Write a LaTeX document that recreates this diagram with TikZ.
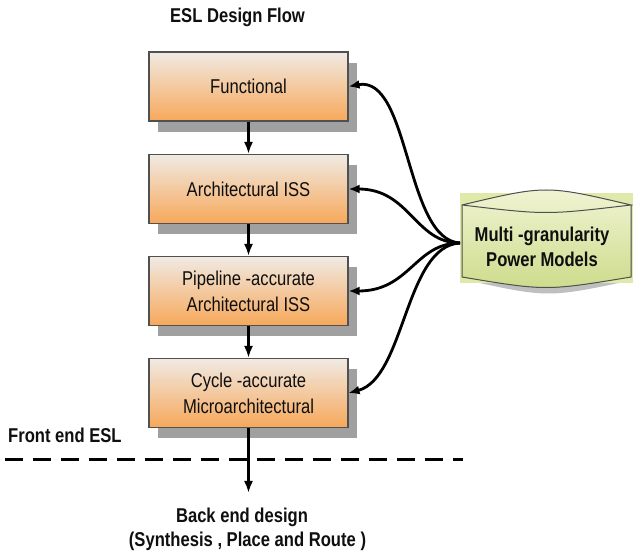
\documentclass[tikz,border=0pt]{standalone}
\usepackage{fontspec}
\setmainfont{Liberation Sans}[FakeStretch=0.83]
\usetikzlibrary{arrows.meta,shadows}
\definecolor{boxtop}{RGB}{240,234,228}
\definecolor{boxbot}{RGB}{247,168,90}
\definecolor{boxedge}{RGB}{80,80,80}
\definecolor{shadowgray}{RGB}{160,160,160}
\definecolor{pmback}{RGB}{222,233,170}
\definecolor{pmtop}{RGB}{242,245,214}
\definecolor{pmbot}{RGB}{204,219,138}
\definecolor{ink}{RGB}{15,15,15}

\begin{document}
\begin{tikzpicture}[x=1pt,y=-1pt,
  txt/.style={font=\fontsize{20}{26}\selectfont, text=ink, inner sep=0pt},
  bold/.style={txt, font=\fontsize{20}{25}\selectfont\bfseries},
  stage/.style={txt, draw=boxedge, line width=1.1pt, top color=boxtop,
    bottom color=boxbot, minimum width=199pt, minimum height=69pt, align=center,
    drop shadow={shadow xshift=9pt, shadow yshift=-11pt, fill=shadowgray, opacity=1}},
  flow/.style={line width=2.3pt, -{Latex[length=12pt,width=9pt]}},
  feed/.style={line width=2.8pt, -{Latex[length=11pt,width=9pt]}},
]
\useasboundingbox (0,0) rectangle (633,556);

% title
\node[bold, anchor=base] (title) at (237.5,23) {ESL Design Flow};

% abstraction levels
\node[stage] (f1) at (248.5,86.5) {Functional};
\node[stage] (f2) at (248.5,189) {Architectural ISS};
\node[stage] (f3) at (248.5,291) {Pipeline -accurate\\Architectural ISS};
\node[stage] (f4) at (248.5,393) {Cycle -accurate\\Microarchitectural};

\draw[flow] (f1) -- (f2);
\draw[flow] (f2) -- (f3);
\draw[flow] (f3) -- (f4);

% power model store
\fill[black!25] (466,280) .. controls (548,298) .. (633,280) -- cycle;
\node[fill=pmback, minimum width=173pt, minimum height=90pt, inner sep=0pt] (pmbg) at (546.5,238) {};
\fill[top color=pmtop, bottom color=pmbot]
  (462,205) .. controls (546,185) .. (631,205) -- (631,277)
  .. controls (546,291) .. (462,277) -- cycle;
\draw[boxedge, line width=1pt]
  (462,205) .. controls (546,185) .. (631,205)
  .. controls (546,215) .. (462,205) -- (462,277)
  .. controls (546,291) .. (631,277) -- (631,205);
\node[bold, align=center] (pm) at (542,247) {Multi -granularity\\Power Models};
\coordinate (src) at (460,243);

% model feedback to each level
\draw[feed] (src) .. controls (405,240) and (410,75) .. (f1.east);
\draw[feed] (src) .. controls (415,243) and (410,189) .. (f2.east);
\draw[feed] (src) .. controls (415,243) and (410,291) .. (f3.east);
\draw[feed] (src) .. controls (405,246) and (405,378) .. (f4.east);

% front end / back end boundary
\node[bold, anchor=base west] (fe) at (8,443) {Front end ESL};
\coordinate (dl) at (5,460);
\coordinate (dr) at (463,460);
\draw[line width=3pt, dash pattern=on 18pt off 10pt] (dl) -- (dr);

\coordinate (be) at (248.5,493);
\draw[flow] (f4.south) -- (be);
\node[bold, anchor=base] (be1) at (242,522) {Back end design};
\node[bold, anchor=base] (be2) at (247.5,547) {(Synthesis , Place and Route )};
\end{tikzpicture}
\end{document}
